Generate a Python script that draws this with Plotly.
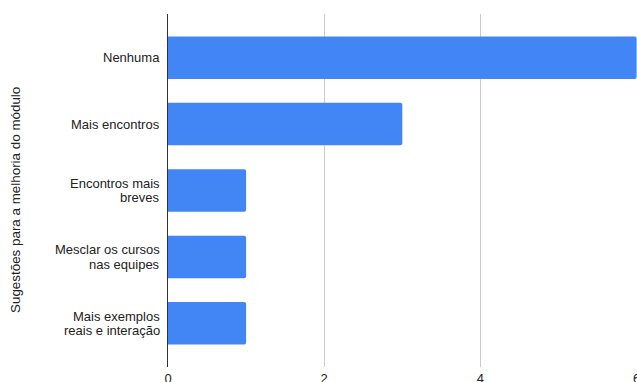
import plotly.graph_objects as go

# Suggestions for improving the module and how many people gave each
categories = [
    "Nenhuma",
    "Mais encontros",
    "Encontros mais<br>breves",
    "Mesclar os cursos<br>nas equipes",
    "Mais exemplos<br>reais e interação",
]
counts = [6, 3, 1, 1, 1]
x_ticks = [0, 2, 4, 6]
y_title = "Sugestões para a melhoria do módulo"

W, H = 637, 382
L, R, T, B = 168, 0, 14, 15
plot_w = W - L - R
plot_h = H - T - B
LINE_GAP = 14.5  # px between lines of a wrapped category label

fig = go.Figure(
    go.Bar(
        x=counts,
        y=categories,
        orientation="h",
        marker=dict(color="#4285F4", line=dict(width=0)),
        hoverinfo="x+y",
    )
)

fig.update_layout(
    width=W,
    height=H,
    margin=dict(l=L, r=R, t=T, b=B),
    paper_bgcolor="white",
    plot_bgcolor="white",
    bargap=0.36,
    barcornerradius=2,
    showlegend=False,
    font=dict(family="Liberation Sans, Arial, sans-serif", size=13, color="#222222"),
)

fig.update_xaxes(
    range=[0, 6.005],
    tickvals=x_ticks,
    ticktext=[str(v) for v in x_ticks],
    showgrid=True,
    gridcolor="#cccccc",
    gridwidth=1,
    zeroline=False,
    showline=False,
    ticks="",
    ticklabelstandoff=2,
    ticklabeloverflow="allow",
    automargin=False,
    tickfont=dict(size=13, color="#222222"),
)

fig.update_yaxes(
    categoryorder="array",
    categoryarray=categories,
    range=[len(categories) - 0.5 + 0.158, -0.5 - 0.158],
    showgrid=False,
    zeroline=False,
    showline=True,
    linecolor="#333333",
    linewidth=1,
    ticks="",
    showticklabels=False,
    automargin=False,
)

# category labels, one annotation per line so wrapped labels sit tightly
for cat in categories:
    lines = cat.split("<br>")
    n = len(lines)
    for i, line in enumerate(lines):
        fig.add_annotation(
            text=line,
            xref="paper",
            yref="y",
            x=0,
            y=cat,
            xanchor="right",
            yanchor="middle",
            xshift=-6,
            yshift=((n - 1) / 2 - i) * LINE_GAP,
            showarrow=False,
            font=dict(size=13, color="#222222"),
        )

# vertical axis title, centred on the full chart height
fig.add_annotation(
    text=y_title,
    textangle=-90,
    xref="paper",
    yref="paper",
    x=(15 - L) / plot_w,
    y=(H - B - 200) / plot_h,
    xanchor="center",
    yanchor="middle",
    showarrow=False,
    font=dict(size=13.4, color="#222222"),
)

fig.write_html("out.html")
